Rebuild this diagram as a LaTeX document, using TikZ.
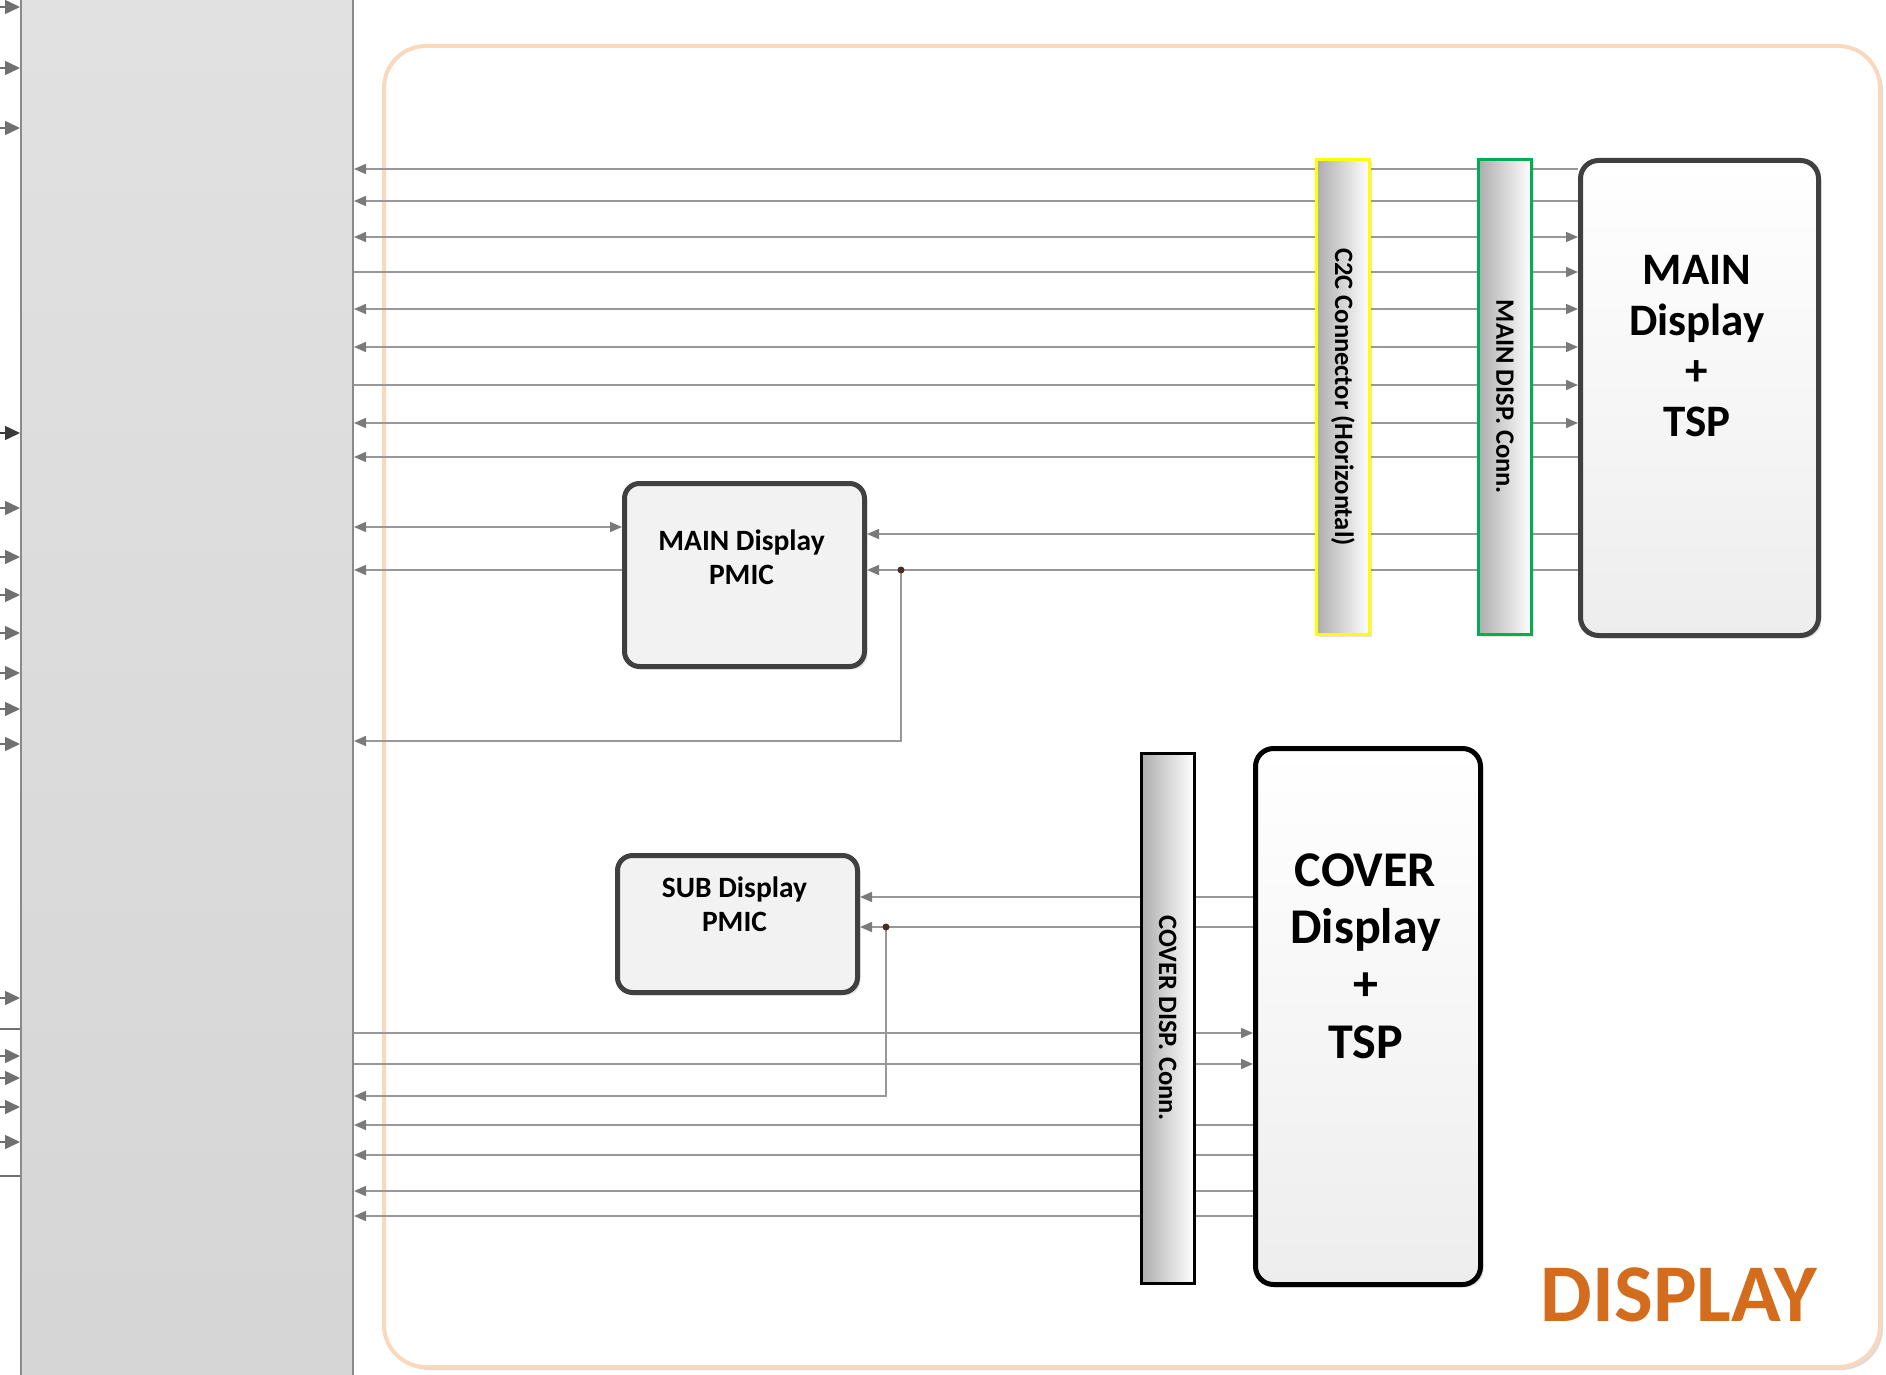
\documentclass[tikz,border=0pt]{standalone}
\usepackage{fontspec}
\setmainfont{Carlito}
\usepackage{xcolor}
\usepackage{tikz}
\usetikzlibrary{arrows.meta,positioning,calc,shadows,backgrounds}
\definecolor{wiregray}{RGB}{152,152,152}
\definecolor{tipgray}{RGB}{122,122,122}
\definecolor{stubgray}{RGB}{112,112,112}
\definecolor{stubdark}{RGB}{58,58,58}
\definecolor{socfill}{RGB}{220,220,220}
\definecolor{socedge}{RGB}{138,138,138}
\definecolor{framebeige}{RGB}{249,216,190}
\definecolor{boxedge}{RGB}{64,64,64}
\definecolor{pmicfill}{RGB}{242,242,242}
\definecolor{c2cyellow}{RGB}{255,255,0}
\definecolor{conngreen}{RGB}{0,176,80}
\definecolor{dotbrown}{RGB}{72,46,36}
\definecolor{titleorange}{RGB}{212,108,30}

\tikzset{
  sig/.style={draw=wiregray,line width=1.6pt,>={Triangle[length=12pt,width=10pt,color=tipgray]}},
  stub/.style={draw=stubgray,line width=1.6pt,>={Triangle[length=15pt,width=14pt,color=stubgray]}},
  connbar/.style={draw,line width=3pt,left color=black!32,right color=white,minimum width=53pt,
    inner sep=0pt,anchor=north west,drop shadow={shadow xshift=2pt,shadow yshift=-2pt,opacity=.2}},
  dispbox/.style={draw,line width=5pt,rounded corners=18pt,top color=white,bottom color=black!7,
    inner sep=0pt,anchor=north west,drop shadow={shadow xshift=3pt,shadow yshift=-3pt,opacity=.2}},
  pmicbox/.style={draw=boxedge,line width=5pt,rounded corners=15pt,fill=pmicfill,inner sep=0pt,
    anchor=north west,drop shadow={shadow xshift=3pt,shadow yshift=-3pt,opacity=.2}},
  bartext/.style={font=\fontsize{26.5}{30}\selectfont\bfseries,rotate=-90,inner sep=0pt},
  pmictext/.style={font=\fontsize{29.5}{34}\selectfont\bfseries,align=center,inner sep=0pt},
}

\begin{document}
\begin{tikzpicture}[x=1pt,y=-1pt]
  \useasboundingbox (0,0) rectangle (1886,1375);
  % frame of the display group
  \begin{scope}[on background layer]
    \draw[framebeige,line width=4pt,rounded corners=42pt,fill=white,
      drop shadow={shadow xshift=3pt,shadow yshift=-3pt,fill=black!14,opacity=1}]
      (384,46) rectangle (1880,1367);
  \end{scope}

  % AP block (left)
  \node[draw=socedge,line width=2pt,top color=socfill!85!white,bottom color=socfill!97!black,
    minimum width=332pt,minimum height=1420pt,inner sep=0pt,anchor=north west] (soc) at (20,-20) {};

  % connectors
  \node[connbar,draw=c2cyellow,minimum height=475pt] (c2c) at (1315,158) {};
  \node[connbar,draw=conngreen,minimum height=475pt] (mdconn) at (1477,158) {};
  \node[connbar,draw=black,line width=2.5pt,minimum height=530pt] (cvconn) at (1140,752) {};
  \node[bartext] (c2c-txt) at (c2c.center) {C2C Connector (Horizontal)};
  \node[bartext] (mdconn-txt) at (mdconn.center) {MAIN DISP. Conn.};
  \node[bartext] (cvconn-txt) at (cvconn.center) {COVER DISP. Conn.};

  % panels
  \node[dispbox,draw=boxedge,minimum width=238pt,minimum height=475pt] (maindisp) at (1578,158) {};
  \node[dispbox,draw=black,minimum width=225pt,minimum height=536pt] (coverdisp) at (1253,746) {};
  \node[font=\fontsize{45}{50.5}\selectfont\bfseries,align=center,inner sep=0pt]
    (maindisp-txt) at (1697,346) {MAIN\\Display\\+\\TSP};
  \node[font=\fontsize{50}{57.3}\selectfont\bfseries,align=center,inner sep=0pt]
    (coverdisp-txt) at (1365.5,956) {COVER\\Display\\+\\TSP};

  % PMICs
  \node[pmicbox,minimum width=240pt,minimum height=183pt] (mainpmic) at (622,481) {};
  \node[pmicbox,minimum width=240pt,minimum height=137pt] (subpmic) at (615,853) {};
  \node[pmictext] (mainpmic-txt) at (741.5,557) {MAIN Display\\PMIC};
  \node[pmictext] (subpmic-txt) at (734.5,904) {SUB Display\\PMIC};

  \node[font=\fontsize{82}{94}\selectfont\bfseries,text=titleorange,inner sep=0pt] (title) at (1679,1295) {DISPLAY};

  % signal lines
  \coordinate (mjoin) at (901,570);
  \coordinate (sjoin) at (886,927);
  \begin{scope}[on background layer]
    \foreach \y in {169,201,457}
      \draw[sig,<-] (soc.east |- 0,\y) -- (maindisp.west |- 0,\y);
    \foreach \y in {237,309,347,423}
      \draw[sig,<->] (soc.east |- 0,\y) -- (maindisp.west |- 0,\y);
    \foreach \y in {272,385}
      \draw[sig,->] (soc.east |- 0,\y) -- (maindisp.west |- 0,\y);
    \draw[sig,->] (maindisp.west |- 0,534) -- (mainpmic.east |- 0,534);
    \draw[sig,->] (maindisp.west |- 0,570) -- (mainpmic.east |- 0,570);
    \draw[sig,<->] (soc.east |- 0,527) -- (mainpmic.west |- 0,527);
    \draw[sig,<-] (soc.east |- 0,570) -- (mainpmic.west |- 0,570);
    \draw[sig,->] (mjoin) -- (mjoin |- 0,741) -- (soc.east |- 0,741);

    \draw[sig,->] (coverdisp.west |- 0,897) -- (subpmic.east |- 0,897);
    \draw[sig,->] (coverdisp.west |- 0,927) -- (subpmic.east |- 0,927);
    \draw[sig,->] (sjoin) -- (sjoin |- 0,1096) -- (soc.east |- 0,1096);
    \foreach \y in {1033,1064}
      \draw[sig,->] (soc.east |- 0,\y) -- (coverdisp.west |- 0,\y);
    \foreach \y in {1125,1155,1191,1216}
      \draw[sig,<-] (soc.east |- 0,\y) -- (coverdisp.west |- 0,\y);
  \end{scope}
  \fill[dotbrown] (mjoin) circle (3.5);
  \fill[dotbrown] (sjoin) circle (3.5);

  % inputs on the left edge
  \coordinate (pageedge) at (-2,0);
  \foreach \y in {7,68,128,508,557,595,633,673,709,744,998,1056,1078,1107,1142}
    \draw[stub,->] (pageedge |- 0,\y) -- (soc.west |- 0,\y);
  \draw[stub,draw=stubdark,>={Triangle[length=15pt,width=14pt,color=stubdark]},->]
    (pageedge |- 0,433) -- (soc.west |- 0,433);
  \foreach \y in {1029,1176}
    \draw[stub] (pageedge |- 0,\y) -- (soc.west |- 0,\y);
\end{tikzpicture}
\end{document}
